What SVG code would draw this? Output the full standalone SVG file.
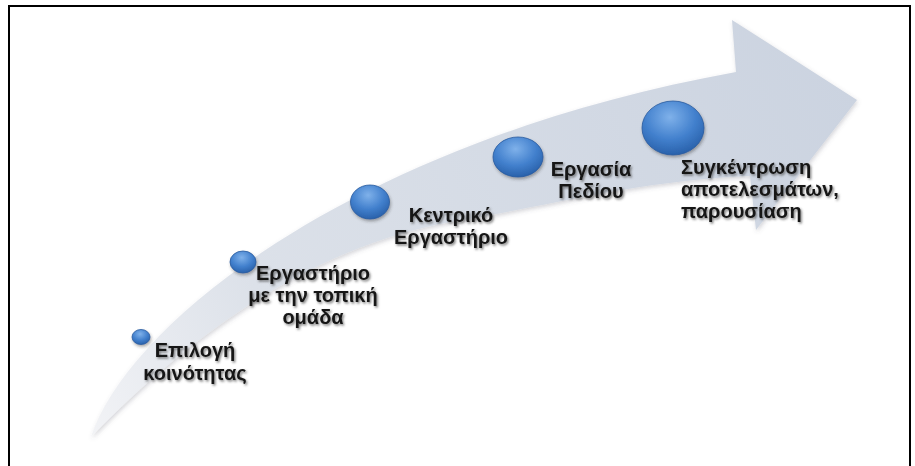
<svg xmlns="http://www.w3.org/2000/svg" width="915" height="466" viewBox="0 0 915 466">
<defs>
<style>
.lbl{font-family:"Liberation Sans",Arial,sans-serif;font-weight:bold;font-size:20px;fill:#141414;filter:url(#tshadow)}
.c{text-anchor:middle}
.bubble{fill:url(#ball);stroke:#285b9e;stroke-width:0.8;filter:url(#bshadow)}
</style>
<linearGradient id="band" x1="90" y1="437" x2="860" y2="100" gradientUnits="userSpaceOnUse">
<stop offset="0" stop-color="#f2f3f6"/>
<stop offset="0.25" stop-color="#dce1e9"/>
<stop offset="1" stop-color="#cbd3e0"/>
</linearGradient>
<radialGradient id="ball" cx="0.45" cy="0.3" r="0.75">
<stop offset="0" stop-color="#7fb1ea"/>
<stop offset="0.55" stop-color="#4280cd"/>
<stop offset="1" stop-color="#255ca5"/>
</radialGradient>
<filter id="tshadow" x="-10%" y="-30%" width="130%" height="170%">
<feDropShadow dx="1.3" dy="1.6" stdDeviation="1.1" flood-color="#444" flood-opacity="0.7"/>
</filter>
<filter id="bshadow" x="-30%" y="-30%" width="170%" height="170%">
<feDropShadow dx="1" dy="2" stdDeviation="1.5" flood-color="#333" flood-opacity="0.4"/>
</filter>
<filter id="ashadow" x="-10%" y="-10%" width="120%" height="120%">
<feDropShadow dx="1" dy="2" stdDeviation="2" flood-color="#556" flood-opacity="0.25"/>
</filter>
</defs>
<rect x="9" y="6" width="901" height="480" fill="#ffffff" stroke="#000000" stroke-width="2"/>
<g id="arrow">
<path d="M91,437 C190,335 310,248 450,222 C540,208 640,180 750,176 L756,230 L857,100 L732,20 L736,72 C360,140 130,320 91,437 Z" fill="url(#band)" filter="url(#ashadow)"/>
</g>
<g id="connectors"></g>
<g id="node1">
<ellipse class="bubble" cx="141" cy="337" rx="9" ry="7.5"/>
<text class="lbl c" x="195" y="357">Επιλογή</text>
<text class="lbl c" x="195" y="380">κοινότητας</text>
</g>
<g id="node2">
<ellipse class="bubble" cx="243" cy="262" rx="13" ry="11"/>
<text class="lbl c" x="313" y="280">Εργαστήριο</text>
<text class="lbl c" x="313" y="302">με την τοπική</text>
<text class="lbl c" x="313" y="324">ομάδα</text>
</g>
<g id="node3">
<ellipse class="bubble" cx="370" cy="202" rx="19.5" ry="17"/>
<text class="lbl c" x="451" y="222">Κεντρικό</text>
<text class="lbl c" x="451" y="244">Εργαστήριο</text>
</g>
<g id="node4">
<ellipse class="bubble" cx="518" cy="157" rx="25" ry="20"/>
<text class="lbl c" x="591" y="176">Εργασία</text>
<text class="lbl c" x="591" y="198">Πεδίου</text>
</g>
<g id="node5">
<ellipse class="bubble" cx="673" cy="128" rx="31" ry="27"/>
<text class="lbl" x="681" y="174">Συγκέντρωση</text>
<text class="lbl" x="681" y="196">αποτελεσμάτων,</text>
<text class="lbl" x="681" y="218">παρουσίαση</text>
</g>
</svg>
